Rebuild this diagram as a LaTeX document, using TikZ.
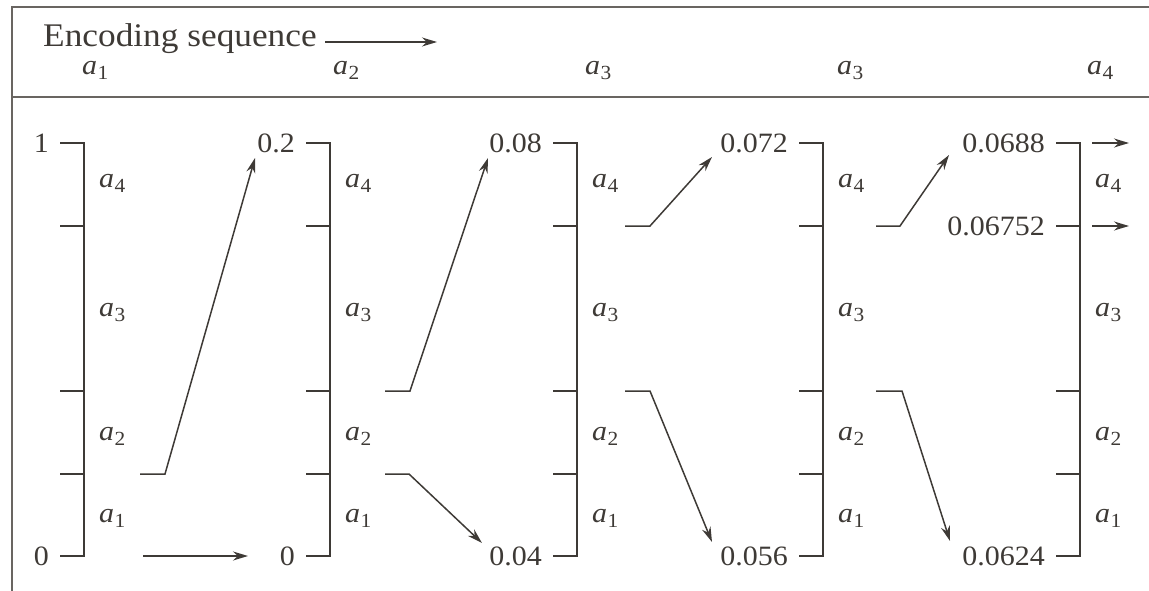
\documentclass[tikz,border=0pt]{standalone}
\usepackage{fontspec}
\setmainfont{Liberation Serif}[FakeStretch=1.07]
\usetikzlibrary{arrows.meta}
\definecolor{ink}{RGB}{62,58,54}
\definecolor{rulec}{RGB}{105,101,97}
\newcommand\sa[1]{\textit{a}\kern0.5pt\raisebox{-5pt}{\fontsize{20}{20}\selectfont #1}}
\begin{document}
\begin{tikzpicture}[x=1pt,y=-1pt,
  lbl/.style={font=\fontsize{28}{30}\selectfont, text=ink, inner sep=0pt},
  num/.style={lbl, anchor=east},
  sym/.style={lbl, anchor=base west},
  bar/.style={draw=ink, line width=1.5pt},
  conn/.style={draw=ink, line width=1.5pt, -{Stealth[length=15pt,width=9pt]}},
  framec/.style={draw=rulec, line width=2pt}]
\useasboundingbox (0,0) rectangle (1149,591);
% frame
\coordinate (f1) at (12,591);
\coordinate (f2) at (12,7);
\coordinate (f3) at (1149,7);
\coordinate (f4) at (12,97);
\coordinate (f5) at (1149,97);
\draw[framec] (f1) -- (f2) -- (f3);
\draw[framec] (f4) -- (f5);
% header
\node[lbl, anchor=base west, font=\fontsize{33}{36}\selectfont] (enc) at (43,47) {Encoding sequence};
\coordinate (h1) at (325,42);
\coordinate (h2) at (437,42);
\draw[conn] (h1) -- (h2);
\node[sym] (s1) at (82,75) {\sa1};
\node[sym] (s2) at (333,75) {\sa2};
\node[sym] (s3) at (585,75) {\sa3};
\node[sym] (s4) at (837,75) {\sa3};
\node[sym] (s5) at (1087,75) {\sa4};
% bars
\foreach \x [count=\i] in {84,330,577,823,1080} {
  \coordinate (b\i t) at (\x,143);
  \coordinate (b\i b) at (\x,556);
  \draw[bar] (\x-24,143) -- (b\i t) -- (b\i b) -- (\x-24,556);
  \foreach \y [count=\j] in {226,391,474} {
    \coordinate (b\i m\j) at (\x,\y);
    \draw[bar] (\x-24,\y) -- (b\i m\j);
  }
  \node[sym] (l\i-4) at (\x+15,188) {\sa4};
  \node[sym] (l\i-3) at (\x+15,316) {\sa3};
  \node[sym] (l\i-2) at (\x+15,440) {\sa2};
  \node[sym] (l\i-1) at (\x+15,522) {\sa1};
}
% numbers
\node[num] (n1t) at (49,143) {1};
\node[num] (n1b) at (49,556) {0};
\node[num] (n2t) at (295,143) {0.2};
\node[num] (n2b) at (295,556) {0};
\node[num] (n3t) at (542,143) {0.08};
\node[num] (n3b) at (542,556) {0.04};
\node[num] (n4t) at (788,143) {0.072};
\node[num] (n4b) at (788,556) {0.056};
\node[num] (n5t) at (1045,143) {0.0688};
\node[num] (n5m) at (1045,226) {0.06752};
\node[num] (n5b) at (1045,556) {0.0624};
% arrows
\coordinate (a0) at (140,474); \coordinate (a1) at (165,474); \coordinate (a2) at (255,158);
\draw[conn] (a0) -- (a1) -- (a2);
\coordinate (b0) at (143,556); \coordinate (b1) at (248,556);
\draw[conn] (b0) -- (b1);
\coordinate (c0) at (385,391); \coordinate (c1) at (410,391); \coordinate (c2) at (488,158);
\draw[conn] (c0) -- (c1) -- (c2);
\coordinate (d0) at (385,474); \coordinate (d1) at (409,474); \coordinate (d2) at (482,543);
\draw[conn] (d0) -- (d1) -- (d2);
\coordinate (e0) at (625,226); \coordinate (e1) at (650,226); \coordinate (e2) at (712,157);
\draw[conn] (e0) -- (e1) -- (e2);
\coordinate (g0) at (625,391); \coordinate (g1) at (650,391); \coordinate (g2) at (712,542);
\draw[conn] (g0) -- (g1) -- (g2);
\coordinate (k0) at (876,226); \coordinate (k1) at (900,226); \coordinate (k2) at (949,155);
\draw[conn] (k0) -- (k1) -- (k2);
\coordinate (m0) at (876,391); \coordinate (m1) at (902,391); \coordinate (m2) at (950,541);
\draw[conn] (m0) -- (m1) -- (m2);
\coordinate (p0) at (1092,143); \coordinate (p1) at (1129,143);
\draw[conn] (p0) -- (p1);
\coordinate (q0) at (1092,226); \coordinate (q1) at (1129,226);
\draw[conn] (q0) -- (q1);
\end{tikzpicture}
\end{document}
